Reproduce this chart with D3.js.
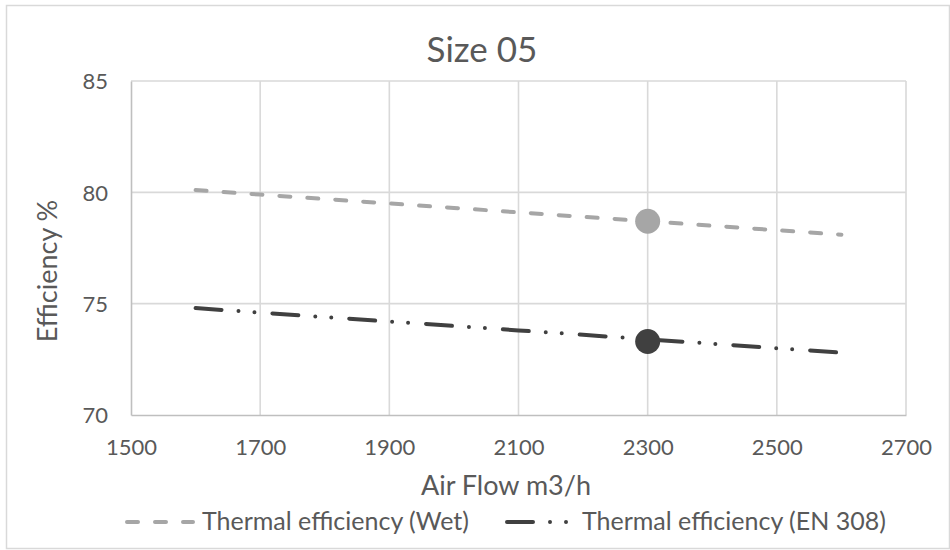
<!DOCTYPE html>
<html><head><meta charset="utf-8">
<script src="https://cdn.jsdelivr.net/npm/d3@7"></script>
<style>
body{margin:0;background:#fff}
svg{display:block}
text{font-family:Lato,"Open Sans",sans-serif;fill:#595959}
</style>
</head><body>
<svg id="chart" width="950" height="550"></svg>
<script>
// ---- data ----
const airFlow = [1600,1700,1800,1900,2000,2100,2200,2300,2400,2500,2600];
const wetEff = [80.1,79.9,79.7,79.5,79.3,79.1,78.9,78.7,78.5,78.3,78.1];
const en308Eff = [74.8,74.6,74.4,74.2,74.0,73.8,73.6,73.4,73.2,73.0,72.8];
const markerFlow = [2300];
const markerWet = [78.7];
const markerEn308 = [73.3];
const xTicks = [1500,1700,1900,2100,2300,2500,2700];
const yTicks = [70,75,80,85];
const chartTitle = "Size 05";
const xTitle = "Air Flow m3/h";
const yTitle = "Efficiency %";
const seriesNames = ["Thermal efficiency (Wet)","Thermal efficiency (EN 308)"];

// ---- layout ----
const svg = d3.select("#chart");
const x = d3.scaleLinear().domain([1500,2700]).range([131,906]);
const y = d3.scaleLinear().domain([70,85]).range([415,81]);
const wetColor = "#a6a6a6", enColor = "#404040";
const wetDash = "11,17", enDash = "26,17,0,16,0,18";

// outer border
svg.append("rect").attr("x",6.5).attr("y",5.5).attr("width",943).attr("height",543)
  .attr("fill","none").attr("stroke","#d9d9d9").attr("stroke-width",1.5);

// gridlines
svg.append("g").selectAll("line").data(xTicks.slice(1)).join("line")
  .attr("x1",d=>x(d)).attr("x2",d=>x(d)).attr("y1",y(85)).attr("y2",y(70))
  .attr("stroke","#d9d9d9").attr("stroke-width",1.6);
svg.append("g").selectAll("line").data(yTicks.slice(1)).join("line")
  .attr("x1",x(1500)).attr("x2",x(2700)).attr("y1",d=>y(d)).attr("y2",d=>y(d))
  .attr("stroke","#d9d9d9").attr("stroke-width",1.6);

// axes
const gx = svg.append("g").attr("transform",`translate(0,${y(70)})`)
  .call(d3.axisBottom(x).tickValues(xTicks).tickSize(0).tickFormat(d3.format("d")));
gx.select(".domain").attr("stroke","#bfbfbf").attr("stroke-width",1.6);
gx.selectAll("text").attr("y",40).attr("dy",null).style("font-size","22px")
  .style("font-family","Lato").attr("fill","#595959");

const gy = svg.append("g").attr("transform",`translate(${x(1500)},0)`)
  .call(d3.axisLeft(y).tickValues(yTicks).tickSize(0));
gy.select(".domain").attr("stroke","#bfbfbf").attr("stroke-width",1.6);
gy.selectAll("text").attr("x",-23).attr("dy","0.35em").style("font-size","22px")
  .style("font-family","Lato").attr("fill","#595959");

// lines
const line = d3.line().x(d=>x(d[0])).y(d=>y(d[1]));
svg.append("path").datum(airFlow.map((f,i)=>[f,wetEff[i]])).attr("d",line)
  .attr("fill","none").attr("stroke",wetColor).attr("stroke-width",4)
  .attr("stroke-linecap","round").attr("stroke-dasharray",wetDash);
svg.append("path").datum(airFlow.map((f,i)=>[f,en308Eff[i]])).attr("d",line)
  .attr("fill","none").attr("stroke",enColor).attr("stroke-width",4)
  .attr("stroke-linecap","round").attr("stroke-dasharray",enDash);

// markers
svg.append("g").selectAll("circle").data(markerFlow.map((f,i)=>[f,markerWet[i]])).join("circle")
  .attr("cx",d=>x(d[0])).attr("cy",d=>y(d[1])).attr("r",12.5).attr("fill",wetColor);
svg.append("g").selectAll("circle").data(markerFlow.map((f,i)=>[f,markerEn308[i]])).join("circle")
  .attr("cx",d=>x(d[0])).attr("cy",d=>y(d[1])).attr("r",12.5).attr("fill",enColor);

// titles
svg.append("text").attr("x",482).attr("y",62).attr("text-anchor","middle")
  .style("font-size","35px").text(chartTitle);
svg.append("text").attr("x",506).attr("y",495).attr("text-anchor","middle")
  .style("font-size","27px").text(xTitle);
svg.append("text").attr("transform","translate(57,271) rotate(-90)").attr("text-anchor","middle")
  .style("font-size","27px").text(yTitle);

// legend
const lg = svg.append("g");
lg.append("line").attr("x1",127).attr("x2",193).attr("y1",522).attr("y2",522)
  .attr("stroke",wetColor).attr("stroke-width",4).attr("stroke-linecap","round").attr("stroke-dasharray",wetDash);
lg.append("text").attr("x",202).attr("y",530).style("font-size","25px").text(seriesNames[0]);
lg.append("line").attr("x1",507).attr("x2",568).attr("y1",522).attr("y2",522)
  .attr("stroke",enColor).attr("stroke-width",4).attr("stroke-linecap","round").attr("stroke-dasharray",enDash);
lg.append("text").attr("x",582).attr("y",530).style("font-size","25px").text(seriesNames[1]);
</script>
</body></html>
